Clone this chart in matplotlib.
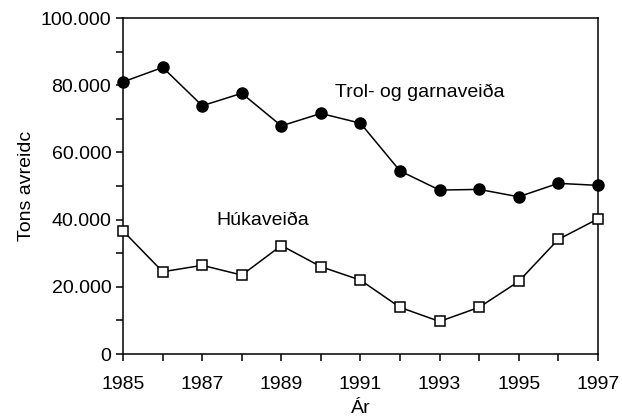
import matplotlib
matplotlib.use("Agg")
import matplotlib.pyplot as plt
from matplotlib.ticker import MultipleLocator, FixedLocator, FuncFormatter

plt.rcParams['font.family'] = ['Liberation Sans', 'DejaVu Sans']

years = list(range(1985, 1998))
trol = [81000, 85300, 73900, 77600, 67900, 71600, 68700, 54500, 48800, 49000, 46800, 50800, 50200]
huka = [36600, 24500, 26400, 23500, 32300, 26000, 22000, 13900, 9700, 13900, 21600, 34100, 40200]


def thousands(v, pos):
    if v == 0:
        return "0"
    return "{:,.0f}".format(v).replace(",", ".")


fig = plt.figure(figsize=(6.22, 4.19), dpi=100)
ax = fig.add_axes([0.198, 0.155, 0.763, 0.802])

ax.plot(years, trol, color='black', lw=1.1, marker='o', ms=8,
        mfc='black', mec='black', clip_on=False, zorder=3)
ax.plot(years, huka, color='black', lw=1.1, marker='s', ms=7.5,
        mfc='white', mec='black', mew=1.1, clip_on=False, zorder=3)

ax.set_xlim(1985, 1997)
ax.set_ylim(0, 100000)
ax.yaxis.set_major_locator(MultipleLocator(20000))
ax.yaxis.set_minor_locator(MultipleLocator(10000))
ax.yaxis.set_major_formatter(FuncFormatter(thousands))
ax.xaxis.set_major_locator(FixedLocator(years[::2]))
ax.xaxis.set_minor_locator(MultipleLocator(1))

ax.tick_params(which='both', direction='out', width=1.1, labelsize=14, colors='black')
ax.tick_params(which='major', length=5)
ax.tick_params(which='minor', length=5)
ax.tick_params(axis='x', pad=11)
for s in ax.spines.values():
    s.set_linewidth(1.1)

ax.text(1990.35, 78000, "Trol- og garnaveiða", fontsize=14, va='center', ha='left')
ax.text(1987.35, 39800, "Húkaveiða", fontsize=14, va='center', ha='left')

ax.set_xlabel("Ár", fontsize=14, labelpad=5)
ax.set_ylabel("Tons avreidc", fontsize=14, labelpad=4)

fig.savefig("out.png", dpi=100)
